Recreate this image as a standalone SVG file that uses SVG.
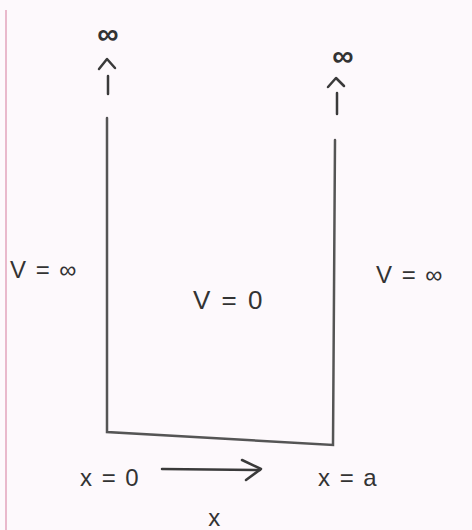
<svg xmlns="http://www.w3.org/2000/svg" width="472" height="530" viewBox="0 0 472 530">
<style>
.bg{fill:#fdf9fc}
.wall{stroke:#555;stroke-width:2.5;fill:none;stroke-linecap:round}
.ln{stroke:#3a3a3a;stroke-width:2.5;fill:none;stroke-linecap:round;stroke-linejoin:round}
.t{font-family:"Liberation Sans",Arial,sans-serif;font-size:24px;fill:#333;letter-spacing:1.5px}
.big{font-size:26px;letter-spacing:2px}
.inf{font-size:30px;font-weight:bold;letter-spacing:0}
.margin{stroke:#e9b9cc;stroke-width:2}
</style>
<rect class="bg" x="0" y="0" width="472" height="530"/>
<line class="margin" x1="6" y1="10" x2="6" y2="530"/>
<g id="connectors">
  <polyline class="wall" points="107,118 107,432 333,445 335,140"/>
  <g id="arrow-left">
    <polyline class="ln" points="99,69 107,59 115,68"/>
    <line class="ln" x1="108" y1="76" x2="108" y2="94"/>
  </g>
  <g id="arrow-right">
    <polyline class="ln" points="328,87 336,78 344,86"/>
    <line class="ln" x1="337" y1="93" x2="337" y2="114"/>
  </g>
  <g id="arrow-x">
    <line class="ln" x1="162" y1="469" x2="260" y2="470"/>
    <polyline class="ln" points="242,460 261,469 246,480"/>
  </g>
</g>
<g id="inf-left"><text class="t inf" x="108" y="44" text-anchor="middle">∞</text></g>
<g id="inf-right"><text class="t inf" x="343" y="66" text-anchor="middle">∞</text></g>
<g id="v-left"><text class="t" x="10" y="278">V = ∞</text></g>
<g id="v-mid"><text class="t big" x="193" y="309">V = 0</text></g>
<g id="v-right"><text class="t" x="376" y="283">V = ∞</text></g>
<g id="x0"><text class="t" x="80" y="486">x = 0</text></g>
<g id="xa"><text class="t" x="318" y="486">x = a</text></g>
<g id="xlabel"><text class="t" x="215" y="526" text-anchor="middle">x</text></g>
</svg>
